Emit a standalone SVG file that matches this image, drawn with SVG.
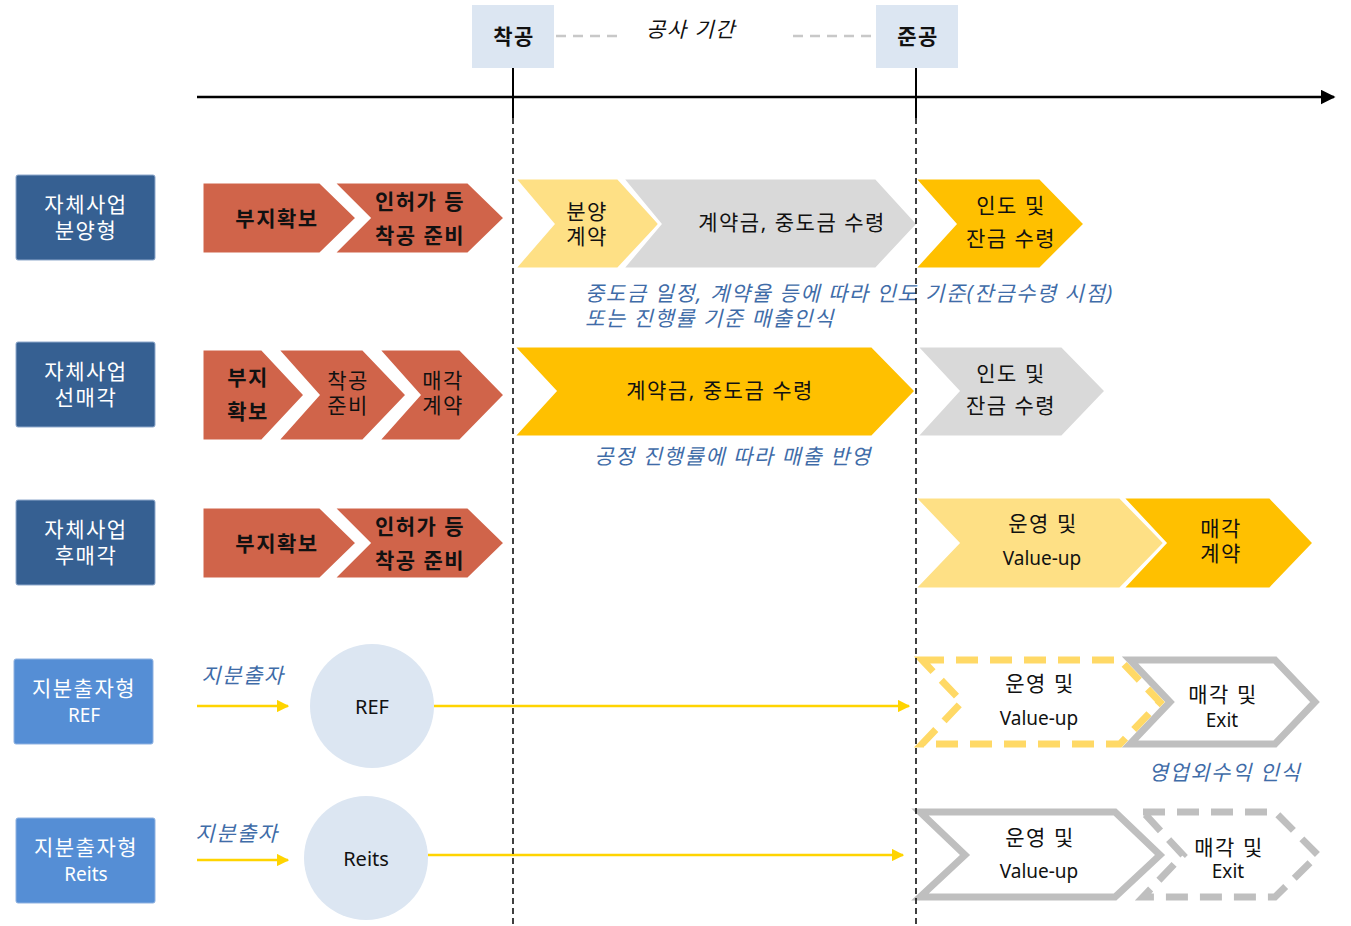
<svg xmlns="http://www.w3.org/2000/svg" width="1351" height="926" viewBox="0 0 1351 926">
<style>
text{font-family:"Noto Sans","Noto Sans CJK KR",sans-serif;text-anchor:middle;dominant-baseline:central;font-size:21px;letter-spacing:1.5px}
.lbl{fill:#fff}
.t{fill:#111}
.tb{fill:#111;font-weight:bold}
.it{fill:#3F6CA8;font-style:italic}
.lat{letter-spacing:0;font-size:19px}
.red{fill:#D0644A;stroke:#fff;stroke-width:3}
.ly{fill:#FEE085;stroke:#fff;stroke-width:3}
.gd{fill:#FFC000;stroke:#fff;stroke-width:3}
.gr{fill:#D9D9D9;stroke:#fff;stroke-width:3}
.dk{fill:#366092;stroke:#8FA9CC;stroke-width:1}
.bl{fill:#558ED5;stroke:#8FB1E0;stroke-width:1}
.circ{fill:#DCE6F2}
.yarrow{stroke:#FFD400;stroke-width:2.5;fill:none}
</style>
<defs>
<marker id="ya" viewBox="0 0 10 10" refX="9" refY="5" markerWidth="5" markerHeight="5" orient="auto" markerUnits="strokeWidth"><path d="M0,0 L10,5 L0,10 z" fill="#FFD400"/></marker>
<marker id="ka" viewBox="0 0 10 10" refX="9" refY="5" markerWidth="6" markerHeight="6" orient="auto" markerUnits="strokeWidth"><path d="M0,0 L10,5 L0,10 z" fill="#000"/></marker>
</defs>
<rect width="1351" height="926" fill="#fff"/>

<g id="timeline">
<rect x="472" y="5" width="82" height="63" fill="#DCE6F2"/>
<text x="514" y="36" class="tb">착공</text>
<rect x="876" y="5" width="82" height="63" fill="#DCE6F2"/>
<text x="918" y="36" class="tb">준공</text>
<line x1="556" y1="36" x2="620" y2="36" stroke="#C8C8C8" stroke-width="2.5" stroke-dasharray="10,7"/>
<line x1="793" y1="36" x2="872" y2="36" stroke="#C8C8C8" stroke-width="2.5" stroke-dasharray="10,7"/>
<text x="691" y="29" class="t" style="font-style:italic">공사 기간</text>
<line x1="197" y1="97" x2="1334" y2="97" stroke="#000" stroke-width="2.5" marker-end="url(#ka)"/>
</g>

<g id="row1-label"><rect x="16" y="175" width="139" height="85" rx="2" class="dk"/><text x="86" y="204" class="lbl">자체사업</text><text x="86" y="230" class="lbl">분양형</text></g>
<g id="row2-label"><rect x="16" y="342" width="139" height="85" rx="2" class="dk"/><text x="86" y="371" class="lbl">자체사업</text><text x="86" y="397" class="lbl">선매각</text></g>
<g id="row3-label"><rect x="16" y="500" width="139" height="85" rx="2" class="dk"/><text x="86" y="529" class="lbl">자체사업</text><text x="86" y="555" class="lbl">후매각</text></g>
<g id="row4-label"><rect x="14" y="659" width="139" height="85" rx="2" class="bl"/><text x="84" y="688" class="lbl">지분출자형</text><text x="84" y="715" class="lbl lat">REF</text></g>
<g id="row5-label"><rect x="16" y="818" width="139" height="85" rx="2" class="bl"/><text x="86" y="847" class="lbl">지분출자형</text><text x="86" y="874" class="lbl lat">Reits</text></g>

<!-- Row 1 -->
<g id="r1-site"><polygon class="red" points="202,182 320,182 357,218 320,254 202,254"/><text x="277" y="218" class="tb">부지확보</text></g>
<g id="r1-permit"><polygon class="red" points="333,182 468,182 505,218 468,254 333,254 369,218"/><text x="420" y="201" class="tb">인허가 등</text><text x="420" y="235" class="tb">착공 준비</text></g>
<g id="r1-sale"><polygon class="ly" points="514,178 618,178 660,224 618,269 514,269 553,224"/><text x="587" y="211" class="t">분양</text><text x="587" y="236" class="t">계약</text></g>
<g id="r1-pay"><polygon class="gr" points="622,178 876,178 918,224 876,269 622,269 660,224"/><text x="792" y="222" class="t">계약금, 중도금 수령</text></g>
<g id="r1-deliver"><polygon class="gd" points="914,178 1040,178 1085,224 1040,269 914,269 955,224"/><text x="1011" y="205" class="t">인도 및</text><text x="1011" y="238" class="t">잔금 수령</text></g>
<g id="r1-note"><text x="585" y="293" class="it" style="text-anchor:start">중도금 일정, 계약율 등에 따라 인도 기준(잔금수령 시점)</text><text x="585" y="318" class="it" style="text-anchor:start">또는 진행률 기준 매출인식</text></g>

<!-- Row 2 -->
<g id="r2-site"><polygon class="red" points="202,349 262,349 305,395 262,441 202,441"/><text x="248" y="377" class="tb">부지</text><text x="248" y="411" class="tb">확보</text></g>
<g id="r2-prep"><polygon class="red" points="277,349 363,349 407,395 363,441 277,441 318,395"/><text x="348" y="380" class="t">착공</text><text x="348" y="405" class="t">준비</text></g>
<g id="r2-sell"><polygon class="red" points="378,349 460,349 505,395 460,441 378,441 419,395"/><text x="443" y="380" class="t">매각</text><text x="443" y="405" class="t">계약</text></g>
<g id="r2-pay"><polygon class="gd" points="513,346 872,346 916,391 872,437 513,437 555,391"/><text x="720" y="390" class="t">계약금, 중도금 수령</text></g>
<g id="r2-deliver"><polygon class="gr" points="916,346 1062,346 1106,391 1062,437 916,437 958,391"/><text x="1011" y="373" class="t">인도 및</text><text x="1011" y="405" class="t">잔금 수령</text></g>
<g id="r2-note"><text x="733" y="456" class="it">공정 진행률에 따라 매출 반영</text></g>

<!-- Row 3 -->
<g id="r3-site"><polygon class="red" points="202,507 320,507 357,543 320,579 202,579"/><text x="277" y="543" class="tb">부지확보</text></g>
<g id="r3-permit"><polygon class="red" points="333,507 468,507 505,543 468,579 333,579 369,543"/><text x="420" y="526" class="tb">인허가 등</text><text x="420" y="560" class="tb">착공 준비</text></g>
<g id="r3-op"><polygon class="ly" points="914,497 1120,497 1165,543 1120,589 914,589 958,543"/><text x="1043" y="523" class="t">운영 및</text><text x="1042" y="558" class="t lat">Value-up</text></g>
<g id="r3-sell"><polygon class="gd" points="1122,497 1270,497 1314,543 1270,589 1122,589 1165,543"/><text x="1221" y="528" class="t">매각</text><text x="1221" y="553" class="t">계약</text></g>

<!-- Row 4 -->
<g id="r4-ref"><circle cx="372" cy="706" r="62" class="circ"/><text x="372" y="706" class="t lat" style="font-size:20px">REF</text></g>
<g id="r4-exit"><polygon points="1130,660 1275,660 1315,702 1275,744 1130,744 1170,702" fill="#fff" stroke="#BFBFBF" stroke-width="7"/><text x="1223" y="694" class="t">매각 및</text><text x="1222" y="720" class="t lat">Exit</text></g>
<g id="r4-op"><polygon points="922,660 1120,660 1160,702 1120,744 922,744 962,702" fill="#fff" fill-opacity="0.9" stroke="#FFD966" stroke-width="7" stroke-dasharray="22,12"/><text x="1040" y="683" class="t">운영 및</text><text x="1039" y="718" class="t lat">Value-up</text></g>
<g id="r4-note"><text x="243" y="675" class="it">지분출자</text><text x="1225" y="772" class="it">영업외수익 인식</text></g>

<!-- Row 5 -->
<g id="r5-reits"><circle cx="366" cy="858" r="62" class="circ"/><text x="366" y="858" class="t lat" style="font-size:20px">Reits</text></g>
<g id="r5-op"><polygon points="920,812 1115,812 1160,855 1115,897 920,897 965,855" fill="#fff" stroke="#BFBFBF" stroke-width="7"/><text x="1040" y="837" class="t">운영 및</text><text x="1039" y="871" class="t lat">Value-up</text></g>
<g id="r5-exit"><polygon points="1143,812 1275,812 1318,855 1275,897 1143,897 1183,855" fill="none" stroke="#BFBFBF" stroke-width="7" stroke-dasharray="22,12"/><text x="1229" y="847" class="t">매각 및</text><text x="1228" y="871" class="t lat">Exit</text></g>
<g id="r5-note"><text x="237" y="833" class="it">지분출자</text></g>

<g id="connectors">
<line x1="197" y1="706" x2="288" y2="706" class="yarrow" marker-end="url(#ya)"/>
<line x1="434" y1="706" x2="909" y2="706" class="yarrow" marker-end="url(#ya)"/>
<line x1="197" y1="860" x2="288" y2="860" class="yarrow" marker-end="url(#ya)"/>
<line x1="428" y1="855" x2="903" y2="855" class="yarrow" marker-end="url(#ya)"/>
<line x1="513" y1="68" x2="513" y2="118" stroke="#000" stroke-width="2"/>
<line x1="916" y1="68" x2="916" y2="118" stroke="#000" stroke-width="2"/>
<line x1="513" y1="118" x2="513" y2="926" stroke="#000" stroke-width="1.5" stroke-dasharray="6,4"/>
<line x1="916" y1="118" x2="916" y2="926" stroke="#000" stroke-width="1.5" stroke-dasharray="6,4"/>
</g>
</svg>
